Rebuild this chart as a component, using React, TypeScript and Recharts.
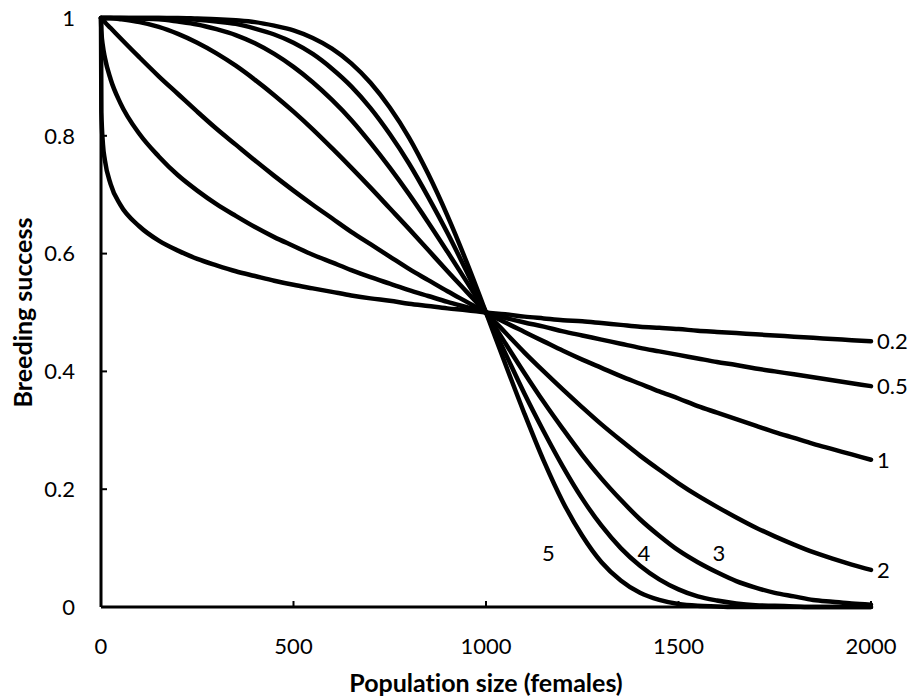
import React from 'react';
import { LineChart, Line, XAxis, YAxis, ReferenceDot } from 'recharts';

// Population size (females)
const populationSize = [
  0, 1, 5, 10, 25, 50,
  100, 150, 200, 250, 300, 350, 400, 450, 500, 550,
  600, 650, 700, 750, 800, 850, 900, 950, 1000,
  1050, 1100, 1150, 1200, 1250, 1300, 1350, 1400, 1450, 1500,
  1550, 1600, 1650, 1700, 1750, 1800, 1850, 1900, 1950, 2000,
];

// Breeding success for each shape parameter
const success02 = [
  1, 0.840, 0.786, 0.759, 0.718, 0.683,
  0.646, 0.622, 0.605, 0.591, 0.580, 0.570, 0.562, 0.554, 0.547, 0.541,
  0.535, 0.529, 0.524, 0.520, 0.515, 0.511, 0.507, 0.504, 0.500,
  0.497, 0.493, 0.490, 0.487, 0.485, 0.482, 0.479, 0.476, 0.474, 0.472,
  0.469, 0.467, 0.465, 0.463, 0.461, 0.459, 0.457, 0.455, 0.453, 0.451,
];
const success05 = [
  1, 0.978, 0.952, 0.933, 0.896, 0.856,
  0.803, 0.765, 0.733, 0.707, 0.684, 0.664, 0.645, 0.628, 0.613, 0.598,
  0.585, 0.572, 0.560, 0.549, 0.538, 0.528, 0.518, 0.509, 0.500,
  0.491, 0.483, 0.476, 0.468, 0.461, 0.454, 0.447, 0.440, 0.434, 0.428,
  0.422, 0.416, 0.411, 0.405, 0.400, 0.395, 0.390, 0.385, 0.380, 0.375,
];
const success1 = [
  1, 0.999, 0.997, 0.993, 0.983, 0.966,
  0.933, 0.901, 0.871, 0.841, 0.812, 0.785, 0.758, 0.732, 0.707, 0.683,
  0.660, 0.637, 0.616, 0.595, 0.574, 0.555, 0.536, 0.518, 0.500,
  0.483, 0.467, 0.451, 0.435, 0.420, 0.406, 0.392, 0.379, 0.366, 0.354,
  0.341, 0.330, 0.319, 0.308, 0.297, 0.287, 0.277, 0.268, 0.259, 0.250,
];
const success2 = [
  1, 1, 1, 1, 1, 0.998,
  0.993, 0.985, 0.973, 0.958, 0.940, 0.919, 0.895, 0.869, 0.841, 0.811,
  0.779, 0.746, 0.712, 0.677, 0.642, 0.606, 0.570, 0.535, 0.500,
  0.466, 0.432, 0.400, 0.369, 0.339, 0.310, 0.283, 0.257, 0.233, 0.210,
  0.189, 0.170, 0.152, 0.135, 0.120, 0.106, 0.093, 0.082, 0.072, 0.063,
];
const success3 = [
  1, 1, 1, 1, 1, 1,
  0.999, 0.998, 0.994, 0.989, 0.981, 0.971, 0.957, 0.939, 0.917, 0.891,
  0.861, 0.827, 0.788, 0.746, 0.701, 0.653, 0.603, 0.552, 0.500,
  0.448, 0.397, 0.348, 0.302, 0.258, 0.218, 0.182, 0.149, 0.121, 0.096,
  0.076, 0.059, 0.044, 0.033, 0.024, 0.018, 0.012, 0.009, 0.006, 0.004,
];
const success4 = [
  1, 1, 1, 1, 1, 1,
  1, 1, 0.999, 0.997, 0.994, 0.990, 0.982, 0.972, 0.958, 0.939,
  0.914, 0.884, 0.847, 0.803, 0.753, 0.696, 0.635, 0.569, 0.500,
  0.431, 0.362, 0.298, 0.238, 0.184, 0.138, 0.100, 0.070, 0.047, 0.030,
  0.018, 0.011, 0.006, 0.003, 0.002, 0.001, 0, 0, 0, 0,
];
const success5 = [
  1, 1, 1, 1, 1, 1,
  1, 1, 1, 0.999, 0.998, 0.996, 0.993, 0.987, 0.979, 0.966,
  0.948, 0.923, 0.890, 0.848, 0.797, 0.735, 0.664, 0.585, 0.500,
  0.413, 0.328, 0.248, 0.178, 0.121, 0.076, 0.045, 0.024, 0.012, 0.005,
  0.002, 0.001, 0, 0, 0, 0, 0, 0, 0, 0,
];

const seriesKeys = ['s02', 's05', 's1', 's2', 's3', 's4', 's5'];
const seriesValues = [success02, success05, success1, success2, success3, success4, success5];

// Curve labels at the right end
const endLabels = ['0.2', '0.5', '1', '2'];
const endLabelValues = [0.451, 0.375, 0.25, 0.063];

// Curve labels inside the plot
const innerLabels = ['5', '4', '3'];
const innerLabelX = [1162, 1410, 1605];
const innerLabelY = [0.092, 0.092, 0.092];

const xTicks = [0, 500, 1000, 1500, 2000];
const yTicks = [0, 0.2, 0.4, 0.6, 0.8, 1];

const data = populationSize.map((x, i) => {
  const row: Record<string, number> = { x };
  seriesKeys.forEach((k, j) => {
    row[k] = seriesValues[j][i];
  });
  return row;
});

const FONT = "Lato, 'Open Sans', sans-serif";

export default function App() {
  return (
    <div style={{ position: 'absolute', left: 0, top: 0, width: 919, height: 700, background: '#fff', fontVariantLigatures: 'none' }}>
      <LineChart
        width={919}
        height={700}
        data={data}
        margin={{ top: 18, right: 48, bottom: 0, left: 0 }}
      >
        <XAxis
          dataKey="x"
          type="number"
          domain={[0, 2000]}
          ticks={xTicks}
          height={93}
          axisLine={{ stroke: '#000', strokeWidth: 3 }}
          tickLine={{ stroke: '#000', strokeWidth: 2 }}
          tickSize={-6}
          tickMargin={37}
          tick={{ fill: '#000', fontSize: 22, fontFamily: FONT }}
          label={{
            content: (props: any) => {
              const vb = props.viewBox || {};
              return (
                <text
                  x={vb.x + vb.width / 2}
                  y={692}
                  textAnchor="middle"
                  fontSize={25}
                  fontWeight="bold"
                  fontFamily={FONT}
                  fill="#000"
                  style={{ fontVariantLigatures: 'none' }}
                >
                  Population size (females)
                </text>
              );
            },
          }}
        />
        <YAxis
          type="number"
          domain={[0, 1]}
          ticks={yTicks}
          width={101}
          axisLine={{ stroke: '#000', strokeWidth: 3 }}
          tickLine={{ stroke: '#000', strokeWidth: 2 }}
          tickSize={-6}
          tickMargin={32}
          tick={{ fill: '#000', fontSize: 22, fontFamily: FONT }}
          label={{
            content: (props: any) => {
              const vb = props.viewBox || {};
              const cy = vb.y + vb.height / 2;
              return (
                <text
                  x={22}
                  y={cy}
                  transform={`rotate(-90, 22, ${cy})`}
                  textAnchor="middle"
                  dominantBaseline="central"
                  fontSize={25}
                  fontWeight="bold"
                  fontFamily={FONT}
                  fill="#000"
                  style={{ fontVariantLigatures: 'none' }}
                >
                  Breeding success
                </text>
              );
            },
          }}
        />
        {seriesKeys.map((k) => (
          <Line
            key={k}
            type="monotone"
            dataKey={k}
            stroke="#000"
            strokeWidth={4.5}
            strokeLinecap="round"
            dot={false}
            activeDot={false}
            isAnimationActive={false}
          />
        ))}
        {endLabels.map((t, i) => (
          <ReferenceDot
            key={`e${t}`}
            x={2000}
            y={endLabelValues[i]}
            r={0}
            fill="none"
            stroke="none"
            label={{ value: t, position: 'right', offset: 6, fill: '#000', fontSize: 22, fontFamily: FONT }}
          />
        ))}
        {innerLabels.map((t, i) => (
          <ReferenceDot
            key={`i${t}`}
            x={innerLabelX[i]}
            y={innerLabelY[i]}
            r={0}
            fill="none"
            stroke="none"
            label={{ value: t, position: 'center', fill: '#000', fontSize: 22, fontFamily: FONT }}
          />
        ))}
      </LineChart>
    </div>
  );
}
